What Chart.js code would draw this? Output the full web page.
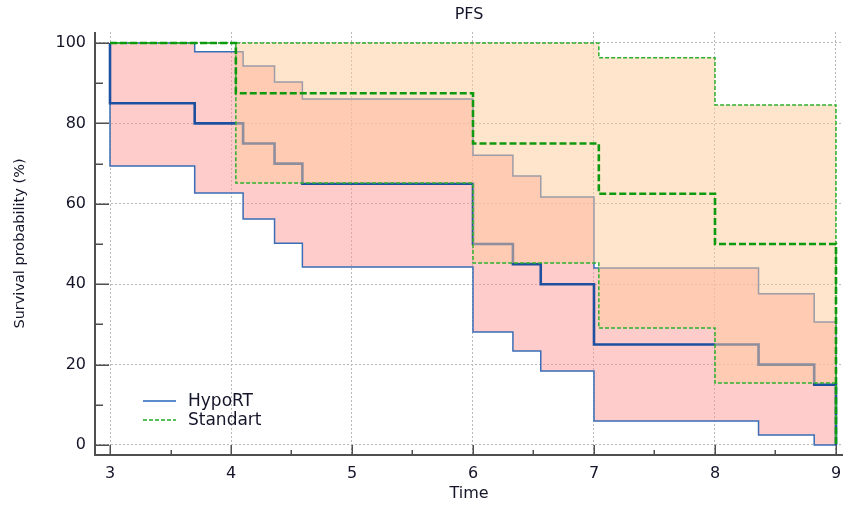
<!DOCTYPE html>
<html>
<head>
<meta charset="utf-8">
<script src="https://cdn.jsdelivr.net/npm/chart.js@4.4.0/dist/chart.umd.min.js"></script>
<style>
html,body{margin:0;padding:0;background:#fff;}
#wrap{width:843px;height:506px;position:relative;}
</style>
</head>
<body>
<div id="wrap"><canvas id="c" width="843" height="506"></canvas></div>
<script>
// ---- data ----
const hypoTimes = [3, 3, 3.70, 4.10, 4.36, 4.59, 6.00, 6.33, 6.56, 7.00, 8.36, 8.82, 9.00];
const hypoSurv  = [100, 85, 80, 75, 70, 65, 50, 45, 40, 25, 20, 15, 0];
const hypoUpper = [100, 100, 97.8, 94.3, 90.3, 86.1, 72.1, 66.9, 61.7, 44.0, 37.6, 30.6, 0];
const hypoLower = [100, 69.4, 62.7, 56.2, 50.2, 44.3, 28.1, 23.4, 18.4, 6.0, 2.5, 0, 0];

const stdTimes = [3, 4.04, 6.00, 7.04, 8.00, 9.00];
const stdSurv  = [100, 87.5, 75, 62.5, 50, 0];
const stdUpper = [100, 100, 100, 96.3, 84.6, 0];
const stdLower = [100, 65.2, 45.3, 29.1, 15.4, 0];

const xTicks = [3, 4, 5, 6, 7, 8, 9];
const yTicks = [0, 20, 40, 60, 80, 100];
const seriesNames = ['HypoRT', 'Standart'];

const FONT = "'DejaVu Sans', 'Liberation Sans', Arial, sans-serif";
const TXT = '#15152a';

function xy(t, v) { return t.map((tt, i) => ({x: tt, y: v[i]})); }

const BLUE_KM = '#1d51a0';
const BLUE_CI = '#3a6db5';
const GREEN_KM = '#0e9a0e';
const GREEN_CI = '#2eb02e';

const base = {pointRadius: 0, pointHoverRadius: 0, stepped: 'before', tension: 0};

const datasets = [
  Object.assign({}, base, {label: seriesNames[0] + ' upper', data: xy(hypoTimes, hypoUpper), borderColor: BLUE_CI, borderWidth: 1.5,
    fill: '+1', backgroundColor: 'rgba(255,153,153,0.5)', order: 6}),
  Object.assign({}, base, {label: seriesNames[0] + ' lower', data: xy(hypoTimes, hypoLower), borderColor: BLUE_CI, borderWidth: 1.5,
    fill: false, order: 5}),
  Object.assign({}, base, {label: seriesNames[0], data: xy(hypoTimes, hypoSurv), borderColor: BLUE_KM, borderWidth: 2.6,
    fill: false, order: 4}),
  Object.assign({}, base, {label: seriesNames[1] + ' upper', data: xy(stdTimes, stdUpper), borderColor: GREEN_CI, borderWidth: 1.5,
    borderDash: [4, 2], fill: '+1', backgroundColor: 'rgba(255,203,153,0.5)', order: 3}),
  Object.assign({}, base, {label: seriesNames[1] + ' lower', data: xy(stdTimes, stdLower), borderColor: GREEN_CI, borderWidth: 1.5,
    borderDash: [4, 2], fill: false, order: 2}),
  Object.assign({}, base, {label: seriesNames[1], data: xy(stdTimes, stdSurv), borderColor: GREEN_KM, borderWidth: 2.6,
    borderDash: [7, 3], fill: false, order: 1})
];

const axesPlugin = {
  id: 'axesInward',
  afterDatasetsDraw(chart) {
    const {ctx, chartArea: a, scales: {x, y}} = chart;
    ctx.save();
    ctx.strokeStyle = '#4f4f4f';
    ctx.lineWidth = 2;
    ctx.beginPath();
    ctx.moveTo(a.left, a.top);
    ctx.lineTo(a.left, a.bottom);
    ctx.lineTo(a.right, a.bottom);
    ctx.stroke();
    ctx.lineWidth = 1.5;
    ctx.beginPath();
    const yv = [];
    yTicks.forEach((v, i) => { yv.push([v, 14]); if (i < yTicks.length - 1) yv.push([(v + yTicks[i + 1]) / 2, 8]); });
    yv.forEach(([v, len]) => {
      const py = Math.round(y.getPixelForValue(v)) + 0.25;
      ctx.moveTo(a.left, py); ctx.lineTo(a.left + len, py);
    });
    const xv = [];
    xTicks.forEach((v, i) => { xv.push([v, 10]); if (i < xTicks.length - 1) xv.push([(v + xTicks[i + 1]) / 2, 5]); });
    xv.forEach(([v, len]) => {
      const px = Math.round(x.getPixelForValue(v)) + 0.25;
      ctx.moveTo(px, a.bottom); ctx.lineTo(px, a.bottom - len);
    });
    ctx.stroke();

    // legend inside the plot
    const lx = a.left + 48, ly = a.bottom - 54, gap = 19;
    const items = [
      {name: seriesNames[0], color: '#5b8bcc', dash: [], w: 2},
      {name: seriesNames[1], color: '#22aa22', dash: [4, 2], w: 1.5}
    ];
    ctx.font = '17px ' + FONT;
    ctx.textBaseline = 'middle';
    ctx.textAlign = 'left';
    items.forEach((it, i) => {
      const yy = ly + i * gap;
      ctx.beginPath();
      ctx.setLineDash(it.dash);
      ctx.strokeStyle = it.color;
      ctx.lineWidth = it.w;
      ctx.moveTo(lx, yy); ctx.lineTo(lx + 33, yy);
      ctx.stroke();
      ctx.setLineDash([]);
      ctx.fillStyle = TXT;
      ctx.fillText(it.name, lx + 45, yy + 1);
    });
    ctx.restore();
  }
};

new Chart(document.getElementById('c'), {
  type: 'line',
  data: {datasets},
  options: {
    responsive: false,
    devicePixelRatio: 1,
    animation: false,
    events: [],
    layout: {padding: {left: 0, right: 0, top: 0, bottom: 0}},
    plugins: {
      legend: {display: false},
      tooltip: {enabled: false},
      title: {display: true, text: 'PFS', fullSize: false, color: TXT,
        font: {family: FONT, size: 16, weight: 'normal'}, padding: {top: 5, bottom: 7.8}}
    },
    scales: {
      x: {
        type: 'linear', min: 2.876, max: 9.058,
        afterBuildTicks: s => { s.ticks = xTicks.map(v => ({value: v})); },
        afterFit: s => { s.height = 51; s.paddingLeft = 0; s.paddingRight = 0; },
        ticks: {color: TXT, font: {family: FONT, size: 16}, padding: 9, maxRotation: 0, autoSkip: false},
        grid: {color: '#b8b8b8', lineWidth: 1, drawTicks: false},
        border: {display: false, dash: [2, 2]},
        title: {display: true, text: 'Time', color: TXT, font: {family: FONT, size: 16}, padding: {top: 3, bottom: 3}}
      },
      y: {
        type: 'linear', min: -2.488, max: 102.736,
        afterBuildTicks: s => { s.ticks = yTicks.map(v => ({value: v})); },
        afterFit: s => { s.width = 95; s.paddingTop = 0; s.paddingBottom = 0; },
        ticks: {color: TXT, font: {family: FONT, size: 16}, padding: 9},
        grid: {color: '#b8b8b8', lineWidth: 1, drawTicks: false},
        border: {display: false, dash: [2, 2]},
        title: {display: true, text: 'Survival probability (%)', color: TXT, font: {family: FONT, size: 14.5}, padding: {top: 12, bottom: 0}}
      }
    }
  },
  plugins: [axesPlugin]
});
</script>
</body>
</html>
